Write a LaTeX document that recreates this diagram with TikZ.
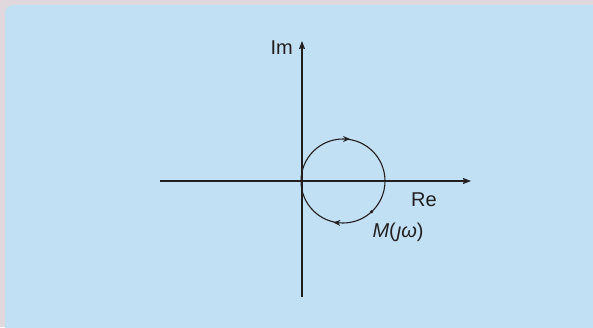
\documentclass[tikz,border=0pt]{standalone}
\usepackage{fontspec}
\setmainfont{Liberation Sans}
\usepackage{tikz}
\usetikzlibrary{arrows.meta,decorations.markings}
\definecolor{framegray}{RGB}{224,216,221}
\definecolor{panelblue}{RGB}{193,224,244}
\definecolor{inkdark}{RGB}{35,31,32}

\begin{document}
\begin{tikzpicture}[
  x=1pt, y=1pt,
  font=\fontsize{20}{24}\selectfont,
  axis/.style={-{Stealth[length=8pt,width=6pt,inset=1pt]}, draw=inkdark, line width=1.1pt},
  curve/.style={draw=inkdark, line width=1.1pt,
                postaction={decorate},
                decoration={markings,
                  mark=at position 0.25 with {\arrow{Stealth[length=7pt,width=6pt,reversed]}},
                  mark=at position 0.74 with {\arrow{Stealth[length=7pt,width=6pt,reversed]}}}},
  dot/.style={circle, fill=inkdark, inner sep=0pt, minimum size=3.4pt},
  lbl/.style={text=inkdark, inner sep=0pt},
]

% ============================================================
% BACKGROUND: grey frame with light blue panel
% ============================================================
\useasboundingbox (0,0) rectangle (593,327);
\clip (0,0) rectangle (593,327);
\fill[framegray] (0,0) rectangle (593,327);
\fill[panelblue, rounded corners=8pt] (5,-10) rectangle (610,322);

% ============================================================
% AXES
% ============================================================
\coordinate (o)    at (343,146);
\coordinate (xmin) at (160,146);
\coordinate (xmax) at (471,146);
\coordinate (ymin) at (302,30);
\coordinate (ymax) at (302,286);
\draw[axis] (xmin) -- (xmax);
\draw[axis] (ymin) -- (ymax);
\node[lbl, anchor=east] (im) at (293,279) {Im};
\node[lbl] (re) at (424,127) {Re};

% ============================================================
% LOCUS M(jw)
% ============================================================
\draw[curve] (o) circle[radius=42];
\node[dot] (mpt) at ([shift={(-47:42)}]o) {};
\node[lbl] (mlab) at (398,95) {\textit{M}(\kern1pt\textit{ȷω})};

\end{tikzpicture}
\end{document}
